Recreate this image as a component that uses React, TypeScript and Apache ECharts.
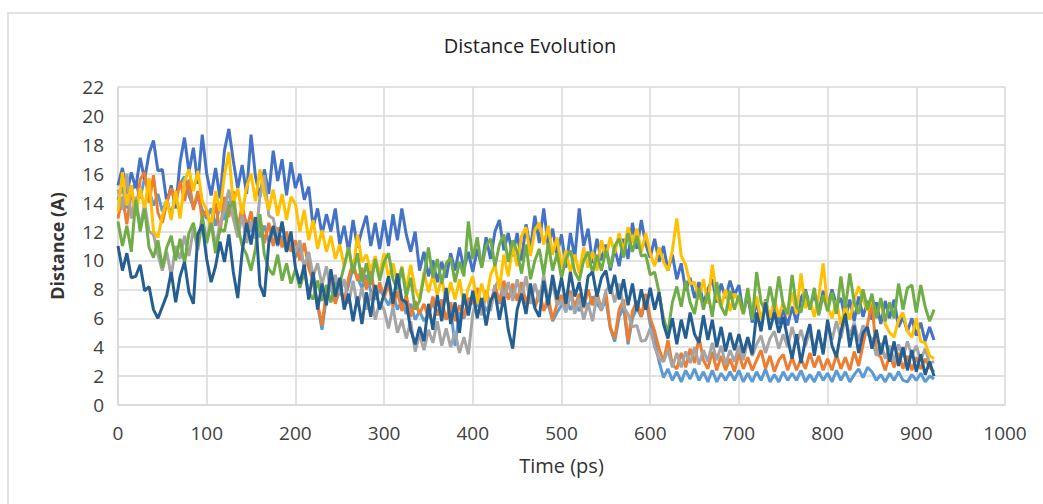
import React, { useEffect, useRef } from "react";
import * as echarts from "echarts";

// Sampling step of the traces (ps)
const STEP = 5;

const X_TICKS_MAX = 1000;
const Y_TICKS_MAX = 22;

const SERIES_NAMES = ["S1", "S2", "S3", "S4", "S5", "S6", "S7"];
const SERIES_COLORS = ["#4472C4", "#ED7D31", "#A5A5A5", "#FFC000", "#5B9BD5", "#70AD47", "#255E91"];

const BLUE = [
  15.2,16.4,14.6,16.1,15.0,17.1,15.6,17.4,18.3,16.2,
  16.3,14.0,15.2,13.6,16.8,18.5,16.1,17.8,15.3,18.7,
  16.0,14.5,16.4,14.3,17.6,19.1,16.9,15.0,16.6,14.6,
  18.7,15.8,14.4,16.3,14.6,17.6,15.5,17.0,14.5,16.8,
  15.0,16.0,14.2,15.1,12.3,13.6,11.8,13.2,12.0,13.6,
  11.1,12.4,10.6,12.8,10.9,12.1,13.1,11.0,12.6,10.8,
  12.8,11.0,13.2,11.4,13.6,11.8,10.6,12.0,9.3,10.6,
  8.9,10.0,8.5,9.9,8.8,10.5,9.3,10.9,9.4,10.6,
  9.2,10.8,9.6,11.6,10.1,12.0,12.8,10.7,11.9,10.3,
  11.9,10.0,12.5,10.8,13.1,11.2,13.6,11.0,12.2,10.4,
  11.8,9.5,11.9,10.2,13.6,11.0,12.2,9.8,11.5,10.0,
  11.1,9.3,10.8,9.6,11.5,10.1,12.6,10.8,12.8,11.1,
  10.2,11.5,9.9,11.0,9.3,10.4,8.7,9.8,7.9,8.8,
  7.4,8.5,7.0,8.0,8.7,7.1,8.4,7.4,8.6,7.6,
  8.3,6.3,7.6,5.7,7.2,5.5,7.3,5.9,6.9,5.6,
  6.6,5.5,6.8,5.7,7.4,8.0,6.8,7.7,6.4,7.9,
  6.8,8.0,6.9,7.4,5.9,7.3,5.8,7.5,6.1,7.2,
  5.9,7.1,5.6,7.2,6.0,7.3,5.4,6.1,5.1,6.0,
  4.8,5.7,4.4,5.4,4.5,
];

const ORANGE = [
  12.9,14.4,12.5,14.9,13.2,15.6,16.1,14.0,15.9,13.3,
  12.6,14.0,15.0,13.9,15.5,14.1,15.6,13.5,14.8,12.9,
  13.5,12.2,14.0,11.9,14.4,13.0,14.8,12.0,13.9,12.1,
  13.4,11.6,12.9,11.2,12.6,11.0,12.3,10.9,12.0,10.6,
  11.4,10.0,11.2,9.5,8.6,7.0,5.5,7.9,8.6,7.0,
  8.3,7.1,8.8,9.9,8.6,9.5,8.0,9.4,7.4,8.5,
  7.4,8.4,6.8,7.9,6.5,7.6,6.1,7.2,6.3,7.0,
  6.0,7.5,6.2,7.3,5.9,7.1,5.8,6.9,6.1,7.4,
  7.0,8.1,6.7,7.9,6.9,8.3,7.1,8.6,7.3,8.4,
  7.2,8.5,7.0,8.1,6.8,7.9,6.5,7.5,5.9,7.0,
  7.6,6.6,7.9,6.8,7.7,6.7,8.0,6.9,7.8,6.6,
  7.8,5.4,4.6,6.6,7.3,4.4,6.5,7.2,6.1,7.7,
  6.0,5.1,3.9,3.0,4.5,2.8,2.5,3.6,2.6,3.9,
  2.9,4.7,3.1,2.5,3.7,2.4,3.4,2.4,3.2,2.3,
  3.6,2.5,3.3,2.4,3.1,3.8,2.5,3.4,2.3,3.1,
  3.5,2.4,3.3,2.4,3.2,2.5,3.6,2.6,3.4,2.4,
  3.2,2.4,3.5,2.5,3.3,2.4,3.7,2.7,4.2,5.6,
  7.1,3.6,3.3,2.4,3.5,2.6,3.6,2.5,3.4,2.4,
  3.3,2.5,3.2,2.6,2.3,
];

const GRAY = [
  14.9,13.5,16.0,12.9,14.4,12.3,13.9,12.0,11.8,10.4,
  9.3,10.6,8.9,11.0,10.1,11.7,10.3,12.2,10.7,12.7,
  11.4,12.9,11.0,12.5,13.5,14.9,12.9,11.6,13.1,11.2,
  12.7,11.5,14.4,15.9,13.1,12.9,11.5,12.6,11.1,11.3,
  10.6,11.4,9.4,10.6,8.9,9.8,8.3,9.6,7.8,9.0,
  7.7,8.7,7.0,8.6,6.8,8.1,6.6,7.8,5.9,7.1,
  6.6,5.3,6.8,5.0,5.9,4.6,5.8,3.7,4.9,3.8,
  5.2,4.3,5.8,4.1,5.3,4.0,5.1,3.6,4.7,3.5,
  6.3,7.5,6.2,7.7,6.5,8.2,8.7,7.4,8.5,7.2,
  8.7,7.4,8.9,7.0,8.4,7.2,9.0,7.1,8.5,6.9,
  7.2,6.4,7.7,6.3,7.4,5.9,7.0,5.8,7.6,6.5,
  7.9,8.3,7.1,8.4,6.8,6.3,5.4,5.5,4.4,4.5,
  5.3,4.0,3.2,3.0,3.8,2.6,3.6,2.6,3.7,2.9,
  4.0,2.8,3.8,3.0,4.3,3.1,4.1,2.8,3.8,3.0,
  4.1,3.1,4.5,3.4,4.2,4.8,3.6,4.6,5.1,3.9,
  4.9,4.0,5.4,4.2,5.2,4.1,5.1,3.9,4.9,3.7,
  5.6,4.5,5.8,4.6,6.0,4.8,5.7,4.4,5.5,4.9,
  4.6,3.4,4.3,3.2,4.1,3.0,4.2,3.3,4.4,3.4,
  4.1,3.1,3.9,2.9,3.0,
];

const YELLOW = [
  13.4,16.1,13.8,15.2,13.1,15.0,13.6,15.7,12.0,11.6,
  13.1,14.2,12.8,14.8,12.9,15.5,16.3,14.8,16.2,14.1,
  13.5,12.3,14.8,13.4,15.9,17.5,13.9,15.0,13.2,15.1,
  16.0,14.1,16.3,14.6,13.5,14.9,13.1,14.6,12.8,14.4,
  13.9,12.0,13.5,11.4,12.8,10.8,12.1,10.6,11.7,10.1,
  11.1,9.6,10.9,9.2,11.8,9.9,10.4,9.3,10.3,9.0,
  10.5,8.8,9.8,8.4,9.6,7.9,9.7,8.0,7.3,9.2,
  7.8,9.0,7.6,8.8,7.1,8.5,7.3,8.7,6.9,8.1,
  8.9,7.0,8.4,7.2,9.0,9.7,8.0,10.4,8.9,11.0,
  9.6,11.7,12.3,10.3,12.1,12.6,11.1,12.4,10.4,11.6,
  9.5,10.7,9.2,10.4,9.1,10.9,9.5,10.6,9.3,11.4,
  10.2,11.6,10.5,11.9,10.6,12.3,11.2,12.2,10.6,11.9,
  10.5,9.6,10.9,9.9,9.3,10.7,12.9,10.3,9.7,8.4,
  8.5,7.3,8.7,7.0,9.7,7.5,6.8,8.0,6.5,7.7,
  7.2,6.3,7.9,6.2,7.5,5.8,7.2,6.0,7.3,6.1,
  7.1,6.2,7.8,6.3,9.1,6.7,7.3,6.1,7.5,9.8,
  6.8,6.0,7.2,5.5,6.9,5.9,7.3,8.2,7.3,6.5,
  7.4,6.1,7.2,5.6,5.0,4.7,5.9,6.4,5.1,4.7,
  6.0,4.4,4.3,3.4,3.2,
];

const LIGHT_BLUE = [
  14.2,15.1,13.6,14.8,15.4,14.3,15.7,14.9,13.8,14.6,
  13.4,14.2,13.1,14.6,15.3,15.8,14.5,13.7,14.4,13.5,
  12.9,13.6,12.4,13.9,12.8,14.1,13.0,12.3,13.5,12.6,
  12.0,12.9,11.6,12.4,11.3,12.1,11.0,11.7,10.6,11.3,
  10.2,10.9,9.6,10.3,8.5,6.9,5.2,7.5,8.2,7.1,
  7.9,7.2,8.3,9.5,8.8,8.1,9.0,7.9,7.3,8.0,
  7.5,6.9,7.8,6.6,7.2,6.3,7.0,5.9,6.5,5.8,
  6.3,7.1,6.2,6.8,5.9,6.6,4.1,6.4,6.0,6.9,
  7.6,6.8,7.3,6.5,7.1,7.8,7.0,8.1,7.4,7.9,
  7.3,8.0,7.1,7.6,6.8,7.5,6.6,7.0,5.8,6.4,
  6.9,7.4,6.6,7.1,6.5,7.3,6.8,7.5,7.0,6.6,
  7.3,5.3,4.4,6.1,6.8,4.2,6.0,6.7,6.1,7.3,
  5.6,4.4,3.0,1.9,2.5,1.7,2.3,1.6,2.4,1.8,
  2.5,1.7,2.3,1.6,2.4,1.6,2.2,1.7,2.3,1.7,
  2.4,1.6,2.2,1.6,2.3,1.7,2.5,1.6,2.1,1.6,
  2.3,1.7,2.2,1.7,2.4,1.6,2.1,1.6,2.3,1.7,
  2.2,1.6,2.4,1.7,2.3,1.6,2.1,2.5,1.9,2.6,
  2.3,1.7,2.1,1.6,2.2,1.7,2.3,1.7,1.6,2.1,
  1.7,2.2,1.6,2.0,1.8,
];

const GREEN = [
  12.7,11.0,12.4,10.6,14.2,12.0,13.6,10.9,10.2,11.4,
  9.5,10.9,11.7,10.0,11.5,9.8,11.9,12.6,11.0,13.1,
  11.2,12.6,10.5,12.2,12.0,13.6,14.1,12.4,11.0,10.4,
  9.3,10.8,13.2,10.4,9.4,9.0,10.4,8.6,9.8,8.4,
  9.4,8.1,9.2,7.8,7.3,8.6,7.2,8.3,7.1,8.4,
  8.4,9.6,10.9,9.1,10.5,8.5,9.8,8.3,10.1,8.6,
  9.9,10.5,8.7,8.0,9.5,7.5,8.8,6.6,7.2,8.9,
  10.9,8.8,10.1,8.4,9.8,10.2,8.5,9.9,8.9,12.7,
  10.1,11.6,9.5,11.0,11.5,9.6,11.1,11.8,9.9,11.4,
  10.6,9.1,11.1,8.7,10.0,10.8,9.0,11.2,9.3,10.5,
  8.8,10.1,10.7,9.2,8.6,10.0,10.6,9.1,10.4,9.3,
  10.7,9.5,11.0,11.5,10.2,11.9,10.6,11.7,10.3,10.4,
  9.0,9.2,7.8,6.0,5.0,7.1,8.2,6.8,8.6,7.1,
  6.3,8.1,6.6,7.8,6.1,8.5,6.8,6.2,7.9,6.6,
  7.6,6.3,8.1,5.9,9.2,7.1,6.5,8.2,6.7,8.9,
  6.9,6.3,9.0,6.8,6.4,7.9,6.6,8.1,6.2,7.6,
  6.5,7.8,6.3,8.9,6.7,9.1,7.1,6.3,8.0,6.6,
  7.7,6.0,7.4,5.8,7.1,6.0,8.4,6.6,8.1,8.3,
  6.4,8.3,6.8,5.8,6.6,
];

const DARK_BLUE = [
  11.0,9.3,10.5,8.8,8.9,9.7,7.9,8.2,6.6,6.0,
  6.8,7.6,9.2,7.1,8.9,9.9,7.8,7.0,11.8,12.5,
  10.1,8.5,9.6,11.3,9.9,11.8,9.2,7.4,10.6,12.6,
  11.1,13.0,8.3,7.5,11.2,12.4,11.1,12.7,10.6,12.0,
  9.5,8.4,9.7,7.3,9.2,6.6,8.4,6.9,9.4,7.5,
  8.8,6.6,7.7,5.8,7.5,5.6,7.8,6.1,8.3,6.6,
  7.7,8.9,7.0,9.1,7.3,7.1,5.2,4.2,5.4,4.4,
  7.0,5.2,7.6,5.8,8.1,5.6,7.1,5.0,7.7,6.2,
  7.9,6.0,7.4,5.5,7.2,7.8,5.9,7.5,5.2,3.9,
  6.6,7.7,6.3,8.4,6.7,6.1,8.6,6.9,9.0,7.3,
  8.8,7.0,9.2,7.5,8.5,6.8,8.9,9.2,7.5,8.8,
  9.3,7.7,9.0,7.3,8.7,6.9,8.4,6.5,8.0,6.6,
  8.1,6.6,7.8,5.6,4.6,6.0,4.2,5.9,4.6,6.4,
  4.9,4.3,6.2,4.5,5.9,4.0,5.4,3.7,5.0,3.8,
  4.9,3.6,4.7,3.5,6.4,5.1,7.1,5.2,6.4,5.0,
  6.1,4.6,3.2,4.9,2.9,4.5,5.6,3.4,5.2,3.5,
  5.9,4.1,3.3,5.1,6.3,4.0,5.5,3.6,5.0,5.4,
  3.9,5.2,3.5,4.8,3.0,4.4,2.7,4.0,2.4,3.8,
  2.3,3.5,2.1,3.0,2.0,
];

const SERIES_VALUES = [BLUE, ORANGE, GRAY, YELLOW, LIGHT_BLUE, GREEN, DARK_BLUE];
// drawing order (first drawn = bottom)
const DRAW_ORDER = [4, 0, 1, 2, 3, 5, 6];

const TEXT_FONT = "'Open Sans', 'Liberation Sans', sans-serif";

export default function App() {
  const ref = useRef<HTMLDivElement>(null);

  useEffect(() => {
    if (!ref.current) return;
    const chart = echarts.init(ref.current, null, { renderer: "svg" });
    const grid = "#D9D9D9";
    const series = DRAW_ORDER.map((idx, k) => ({
      name: SERIES_NAMES[idx],
      type: "line",
      data: SERIES_VALUES[idx].map((v, i) => [i * STEP, v]),
      showSymbol: false,
      symbol: "none",
      lineStyle: { color: SERIES_COLORS[idx], width: 3 },
      itemStyle: { color: SERIES_COLORS[idx] },
      z: 2 + k,
      silent: true,
    }));

    chart.setOption({
      animation: false,
      backgroundColor: "#ffffff",
      grid: { left: 118, right: 38, top: 87, bottom: 99, containLabel: false },
      xAxis: {
        type: "value",
        min: 0,
        max: X_TICKS_MAX,
        interval: 100,
        name: "Time (ps)",
        nameLocation: "middle",
        nameGap: 50,
        nameTextStyle: { fontFamily: TEXT_FONT, fontSize: 20, color: "#333" },
        axisLine: { show: true, lineStyle: { color: grid, width: 1.5 } },
        axisTick: { show: false },
        splitLine: { show: true, lineStyle: { color: grid, width: 1.5 } },
        axisLabel: {
          margin: 18,
          fontFamily: TEXT_FONT,
          fontSize: 19,
          color: "#404040",
          formatter: (v: number) => String(v),
        },
      },
      yAxis: {
        type: "value",
        min: 0,
        max: Y_TICKS_MAX,
        interval: 2,
        name: "Distance (A)",
        nameLocation: "middle",
        nameGap: 52,
        nameTextStyle: { fontFamily: TEXT_FONT, fontSize: 18, fontWeight: "bold", color: "#333" },
        axisLine: { show: true, lineStyle: { color: grid, width: 1.5 } },
        axisTick: { show: false },
        splitLine: { show: true, lineStyle: { color: grid, width: 1.5 } },
        axisLabel: {
          margin: 14,
          fontFamily: TEXT_FONT,
          fontSize: 19,
          color: "#404040",
          formatter: (v: number) => String(v),
        },
      },
      graphic: [
        {
          type: "rect",
          silent: true,
          z: -10,
          shape: { x: 8, y: 13, width: 1100, height: 600 },
          style: { fill: "none", stroke: "#D9D9D9", lineWidth: 1.5 },
        },
        {
          type: "text",
          silent: true,
          style: {
            text: "Distance Evolution",
            x: 530,
            y: 45,
            align: "center",
            verticalAlign: "middle",
            fontFamily: TEXT_FONT,
            fontSize: 20,
            fill: "#222",
          },
        },
      ],
      series,
    });

    return () => {
      chart.dispose();
    };
  }, []);

  return (
    <div
      ref={ref}
      style={{ position: "fixed", left: 0, top: 0, width: 1043, height: 504, background: "#fff" }}
    />
  );
}
